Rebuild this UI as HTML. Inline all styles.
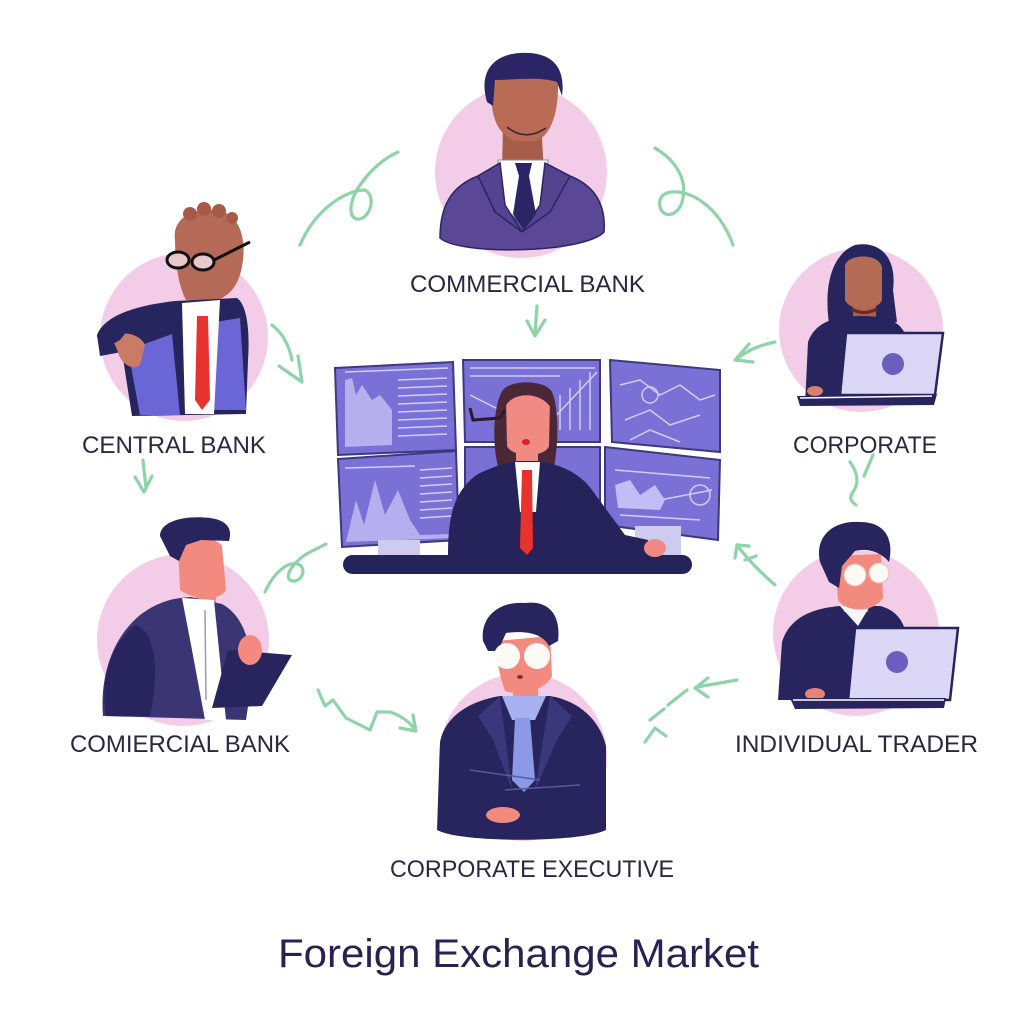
<!DOCTYPE html>
<html><head><meta charset="utf-8"><style>
html,body{margin:0;padding:0;background:#fff;}
svg{display:block;}
text{font-family:"Liberation Sans","DejaVu Sans",sans-serif;fill:#2a2740;}
</style></head><body>
<svg width="1024" height="1024" viewBox="0 0 1024 1024" xmlns="http://www.w3.org/2000/svg">
<rect width="1024" height="1024" fill="#ffffff"/>

<!-- ================= GREEN ARROWS ================= -->
<g fill="none" stroke="#8fd3a8" stroke-width="3.2" stroke-linecap="round" stroke-linejoin="round">
  <path d="M300,245 C315,210 345,190 365,190 C376,196 371,216 360,219 C347,221 349,200 360,185 C372,168 385,158 398,152"/>
  <path d="M655,148 C675,160 690,180 681,205 C673,221 657,215 660,200 C663,188 686,190 701,201 C716,211 727,228 733,245"/>
  <path d="M537,306 L535,334"/><path d="M527,321 L535,336 L545,320"/>
  <path d="M272,325 C285,335 290,350 292,360"/><path d="M279,366 L302,382 L298,356"/>
  <path d="M143,460 L146,488"/><path d="M135,477 L144,492 L152,476"/>
  <path d="M775,342 C760,345 748,350 738,358"/><path d="M749,344 L735,360 L753,362"/>
  <path d="M850,462 C857,472 860,482 853,492 C848,498 852,502 856,505"/><path d="M873,455 L864,476"/>
  <path d="M265,592 C275,570 290,560 300,565 C308,572 298,585 290,580 C284,575 295,560 310,552 C318,548 322,546 326,544"/>
  <path d="M775,585 C760,572 748,560 737,545"/><path d="M737,545 L749,546"/><path d="M737,545 L735,558"/><path d="M745,560 L756,556"/>
  <path d="M318,690 L325,706 L333,700 L346,718 L370,730 L377,712 L390,712 C400,715 410,722 415,730"/><path d="M400,728 L416,731 L413,715"/>
  <path d="M737,680 L697,687"/><path d="M708,678 L695,688 L708,697"/>
  <path d="M687,690 L668,705"/><path d="M664,709 L650,720"/>
  <path d="M645,742 L655,728 L666,736"/>
</g>

<!-- ================= TOP: COMMERCIAL BANK ================= -->
<circle cx="521" cy="172" r="86" fill="#f3cce7"/>
<path d="M503,122 L541,122 L544,172 L502,172Z" fill="#a65e4a"/>
<path d="M440,238 C440,205 452,186 478,176 L500,163 L545,163 L570,176 C595,186 606,205 604,232 C585,253 460,256 440,238Z" fill="#5a4897" stroke="#2b2566" stroke-width="1.5"/>
<path d="M498,160 L548,160 L545,206 L522,222 L500,206Z" fill="#ffffff" stroke="#8a88a8" stroke-width="1"/>
<path d="M478,176 L500,163 L505,205 L522,232 L495,212Z" fill="#54448f" stroke="#2b2566" stroke-width="1.5"/>
<path d="M570,176 L545,163 L540,205 L522,232 L550,212Z" fill="#54448f" stroke="#2b2566" stroke-width="1.5"/>
<path d="M515,163 L532,163 L529,176 L536,214 L524,230 L513,214 L519,176Z" fill="#2b2566"/>
<path d="M492,86 C489,118 499,134 514,141 L536,141 C552,135 559,110 558,80 C554,64 499,64 492,86Z" fill="#b96b55"/>
<path d="M507,127 Q525,142 546,128" fill="none" stroke="#3a2030" stroke-width="1.5"/>
<path d="M487,102 C479,75 490,55 520,53 C551,51 566,66 562,96 L557,82 C540,76 512,80 495,80 L493,106Z" fill="#2b2566"/>

<!-- ================= CENTRAL BANK ================= -->
<circle cx="184" cy="337" r="84" fill="#f3cce7"/>
<path d="M175,240 C172,220 190,208 215,210 C238,212 246,235 243,260 C240,285 230,298 210,302 L186,300 C178,285 175,260 175,240Z" fill="#b56a58"/>
<circle cx="190" cy="214" r="7" fill="#a85a48"/><circle cx="204" cy="209" r="7" fill="#a85a48"/>
<circle cx="219" cy="211" r="7" fill="#a85a48"/><circle cx="232" cy="218" r="6" fill="#a85a48"/>
<path d="M97,335 C105,314 140,305 175,301 L237,298 C247,305 250,330 248,360 L246,414 L132,416 L122,352 L100,356Z" fill="#26255e"/>
<path d="M128,350 L172,334 L180,415 L140,415Z" fill="#6b66d6"/>
<path d="M215,322 L240,318 L246,410 L213,410Z" fill="#6b66d6"/>
<path d="M182,303 L220,300 L214,414 L185,414Z" fill="#ffffff"/>
<path d="M197,316 L208,316 L210,400 L202,410 L195,400Z" fill="#e8322e"/>
<path d="M112,338 C120,330 140,333 145,345 L140,365 C132,372 120,362 118,352Z" fill="#c97b68"/>
<path d="M97,336 C100,326 115,322 128,330 L120,340 L102,350Z" fill="#26255e"/>
<ellipse cx="178" cy="260" rx="11" ry="8" fill="#e8c9c9" stroke="#111" stroke-width="3"/>
<ellipse cx="203" cy="262" rx="11" ry="8" fill="#e8c9c9" stroke="#111" stroke-width="3"/>
<path d="M214,260 L250,242" stroke="#111" stroke-width="3" fill="none"/>

<!-- ================= CORPORATE ================= -->
<circle cx="861" cy="330" r="82" fill="#f3cce7"/>
<path d="M830,330 C823,290 830,255 855,245 C882,240 897,260 893,290 L897,322 L830,330Z" fill="#27245e"/>
<path d="M853,298 L876,298 L876,320 L853,320Z" fill="#a86050"/>
<path d="M845,266 C846,254 880,252 882,268 L882,300 C877,312 850,312 845,300Z" fill="#b36b55"/>
<path d="M851,309 Q864,316 877,309" stroke="#6a2a20" stroke-width="3" fill="none"/>
<path d="M805,405 L808,342 C815,322 835,316 860,316 C885,316 900,320 906,336 L906,405Z" fill="#27245e"/>
<polygon points="846,333 943,333 935,395 840,395" fill="#dbd6f6" stroke="#27245e" stroke-width="2.5"/>
<circle cx="893" cy="364" r="11" fill="#6c5ebf"/>
<polygon points="797,396 937,394 934,405 800,406" fill="#27245e"/>
<line x1="800" y1="398" x2="932" y2="396" stroke="#fff" stroke-width="1.5"/>
<ellipse cx="815" cy="391" rx="8" ry="5" fill="#d98070"/>

<!-- ================= INDIVIDUAL TRADER ================= -->
<circle cx="856" cy="633" r="83" fill="#f3cce7"/>
<path d="M778,700 L782,642 C790,616 815,608 840,606 L880,606 C900,611 905,626 908,641 L910,700Z" fill="#27245e"/>
<path d="M842,598 L866,598 L868,612 L844,612Z" fill="#f28a80"/>
<path d="M840,606 L870,606 L858,626Z" fill="#f5f5fa"/>
<path d="M835,556 L881,554 L883,598 C872,614 846,612 838,600Z" fill="#f28a80"/>
<path d="M820,562 C814,535 835,520 860,522 C886,522 894,540 889,562 C880,551 866,548 855,551 L842,566 L839,588 L829,582Z" fill="#27245e"/>
<circle cx="855" cy="575" r="11" fill="#fdfaf6" stroke="#f0b8b0" stroke-width="1"/>
<circle cx="879" cy="573" r="10" fill="#fdfaf6" stroke="#f0b8b0" stroke-width="1"/>
<polygon points="855,628 958,628 950,700 848,700" fill="#dcd7f6" stroke="#27245e" stroke-width="2.5"/>
<circle cx="897" cy="662" r="11" fill="#6c5ebf"/>
<ellipse cx="815" cy="694" rx="10" ry="6" fill="#e8837a"/>
<polygon points="790,698 946,698 944,708 795,709" fill="#27245e"/>
<line x1="793" y1="700" x2="944" y2="700" stroke="#fff" stroke-width="1.5"/>

<!-- ================= COMMERCIAL BANK (bottom-left) ================= -->
<circle cx="183" cy="640" r="86" fill="#f3cce7"/>
<path d="M195,588 L216,588 L216,612 L197,612Z" fill="#f28a80"/>
<path d="M103,716 C100,680 110,640 140,615 C160,600 176,598 191,597 L222,604 C242,615 252,640 252,680 L246,720Z" fill="#3c3574"/>
<path d="M106,716 C100,680 110,645 135,625 C155,630 160,670 150,716Z" fill="#27245e"/>
<path d="M182,598 L214,600 L226,720 L205,720 L192,650Z" fill="#ffffff"/>
<path d="M205,610 L206,700" stroke="#9a9ab5" stroke-width="1.5" fill="none"/>
<path d="M178,545 C181,535 216,535 222,546 L226,590 C220,601 195,601 180,590Z" fill="#f28a80"/>
<path d="M160,536 C160,521 185,515 210,518 C226,520 233,528 229,541 L201,540 L186,545 L179,561 L170,556Z" fill="#27245e"/>
<polygon points="228,650 292,655 262,706 212,708" fill="#27245e"/>
<ellipse cx="250" cy="650" rx="12" ry="15" fill="#f28a80"/>

<!-- ================= CORPORATE EXECUTIVE ================= -->
<circle cx="523" cy="757" r="84" fill="#f3cce7"/>
<path d="M513,684 L538,684 L538,700 L513,700Z" fill="#f28a80"/>
<path d="M437,830 L440,742 C445,716 470,701 500,696 L550,696 C580,701 600,721 606,746 L606,830 C580,843 460,843 437,830Z" fill="#27245e"/>
<path d="M500,696 L478,716 L493,740 L512,790Z" fill="#3a377a"/>
<path d="M550,696 L572,716 L557,740 L535,790Z" fill="#3a377a"/>
<polygon points="502,696 546,696 535,720 512,720" fill="#a6b2ee"/>
<polygon points="515,718 530,718 535,780 524,792 512,780" fill="#8c9ae6"/>
<path d="M470,770 L540,780 M505,790 L580,785" stroke="#5a58a0" stroke-width="1.5" fill="none"/>
<ellipse cx="503" cy="815" rx="17" ry="8" fill="#f28a80"/>
<path d="M497,641 L550,636 L552,676 C545,691 520,696 505,691 C498,671 496,656 497,641Z" fill="#f28a80"/>
<path d="M483,641 C480,616 500,601 525,603 C550,600 561,616 558,641 L549,646 C541,631 521,631 506,633 L498,651 L488,651Z" fill="#27245e"/>
<circle cx="507" cy="656" r="13" fill="#fdfaf6"/>
<circle cx="537" cy="656" r="13" fill="#fdfaf6"/>
<ellipse cx="520" cy="677" rx="3" ry="2" fill="#8a3030"/>

<!-- ================= CENTRAL TRADING DESK ================= -->
<g stroke="#3e3880" stroke-width="2">
  <polygon points="335,368 453,362 456,450 338,455" fill="#7a70d6"/>
  <polygon points="463,360 600,360 600,442 465,442" fill="#7a70d6"/>
  <polygon points="610,360 720,370 720,452 612,442" fill="#7a70d6"/>
  <polygon points="338,459 456,451 459,540 342,547" fill="#7a70d6"/>
  <polygon points="465,447 600,447 600,526 465,526" fill="#7a70d6"/>
  <polygon points="605,447 720,460 718,540 605,525" fill="#7a70d6"/>
</g>
<g fill="none" stroke="#d2cdf8" stroke-width="1.5">
  <path d="M398,380 L447,378 M398,388 L447,386 M398,396 L447,394 M398,404 L447,402 M398,412 L447,410 M398,420 L447,418 M398,428 L447,426 M398,436 L447,434"/>
  <path d="M345,372 L448,368 M470,368 L595,368 M470,376 L560,376"/>
  <path d="M470,395 L500,410 L520,400 M560,430 L560,395 M570,430 L570,388 M580,430 L580,380 M590,430 L590,372 M552,420 L597,372"/>
  <path d="M620,385 L640,380 L660,395 L680,385 L700,400 L715,395 M625,420 L650,410 L670,425 L700,415 M630,440 L650,430 L680,442"/>
  <circle cx="650" cy="395" r="8"/>
  <path d="M420,470 L452,468 M420,478 L452,476 M420,486 L452,484 M420,494 L452,492 M420,502 L452,500 M420,510 L452,508 M420,518 L452,516 M345,468 L415,466"/>
  <path d="M615,470 L710,478 M660,500 L712,490 M620,515 L700,520"/>
  <circle cx="700" cy="495" r="10"/>
</g>
<polygon points="345,380 352,378 356,395 362,385 372,400 380,395 392,410 392,445 345,447" fill="#b7b0ef"/>
<polygon points="346,542 356,500 364,525 375,480 385,515 398,490 410,520 420,535 452,534 454,538" fill="#b5aff0"/>
<polygon points="615,485 630,480 640,495 655,485 665,500 660,510 618,508" fill="#c2bdf4"/>
<rect x="378" y="540" width="42" height="16" fill="#cfcbf0"/>
<rect x="635" y="526" width="46" height="30" fill="#cfcbf0"/>
<!-- desk -->
<rect x="343" y="555" width="349" height="19" rx="9.5" fill="#25245a"/>
<!-- trader -->
<path d="M499,470 C490,440 495,395 505,388 C515,380 545,380 552,392 C560,410 558,450 553,472Z" fill="#4a2838"/>
<path d="M516,448 L538,448 L538,466 L516,466Z" fill="#f08a82"/>
<path d="M448,556 C448,520 452,492 478,474 C495,466 508,462 518,461 L537,461 C560,464 580,473 592,490 L625,535 L648,540 L650,556Z" fill="#252359"/>
<path d="M515,462 L540,462 L536,512 L520,512Z" fill="#ffffff"/>
<path d="M522,470 L532,470 L533,548 L527,555 L520,548Z" fill="#e8322e"/>
<path d="M506,400 C506,392 549,392 550,402 L549,446 C545,458 512,458 507,446Z" fill="#f08a82"/>
<path d="M505,408 C510,392 540,390 551,408 L553,398 C545,382 512,382 503,398Z" fill="#4a2838"/>
<ellipse cx="526" cy="442" rx="4" ry="3" fill="#e02020"/>
<path d="M470,408 L473,420 L500,418 L505,410" fill="none" stroke="#2a1a2a" stroke-width="3"/>
<ellipse cx="655" cy="548" rx="11" ry="9" fill="#f08a82"/>

<!-- ================= LABELS ================= -->
<text x="410" y="292" font-size="24" textLength="235" lengthAdjust="spacingAndGlyphs">COMMERCIAL BANK</text>
<text x="82" y="453" font-size="24" textLength="184" lengthAdjust="spacingAndGlyphs">CENTRAL BANK</text>
<text x="793" y="453" font-size="24" textLength="144" lengthAdjust="spacingAndGlyphs">CORPORATE</text>
<text x="70" y="752" font-size="24" textLength="220" lengthAdjust="spacingAndGlyphs">COMIERCIAL BANK</text>
<text x="735" y="752" font-size="24" textLength="243" lengthAdjust="spacingAndGlyphs">INDIVIDUAL TRADER</text>
<text x="390" y="877" font-size="24" textLength="284" lengthAdjust="spacingAndGlyphs">CORPORATE EXECUTIVE</text>
<text x="278" y="967" font-size="40" textLength="481" lengthAdjust="spacingAndGlyphs" style="fill:#2a2150">Foreign Exchange Market</text>
</svg>
</body></html>
